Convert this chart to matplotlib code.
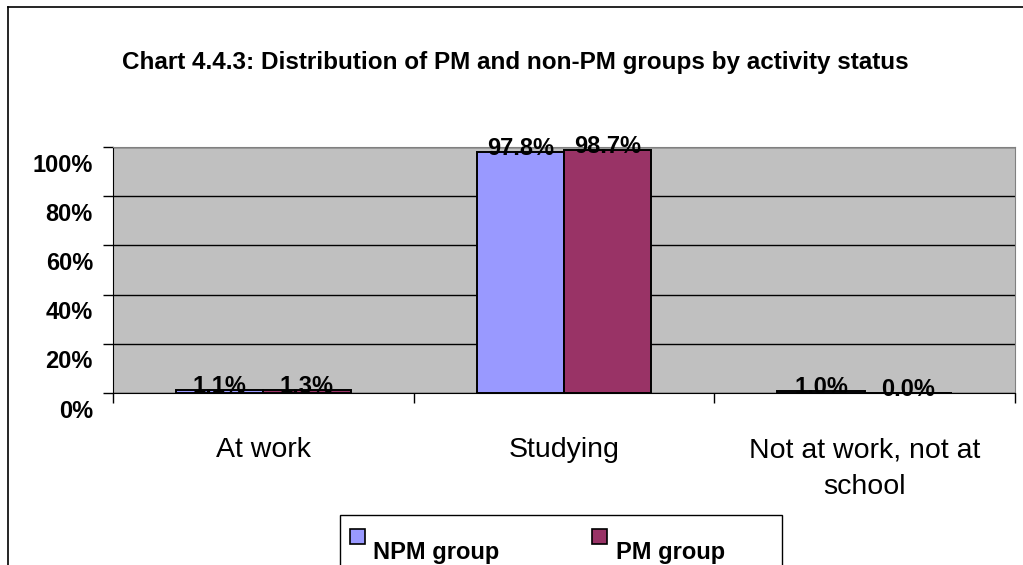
import numpy as np
import matplotlib
matplotlib.use('Agg')
import matplotlib.pyplot as plt
from matplotlib.lines import Line2D
from matplotlib.patches import Rectangle

plt.rcParams['font.family'] = ['Liberation Sans', 'DejaVu Sans']

title = "Chart 4.4.3: Distribution of PM and non-PM groups by activity status"
categories = ["At work", "Studying", "Not at work, not at\nschool"]
series_names = ["NPM group", "PM group"]
npm_vals = [1.1, 97.8, 1.0]
pm_vals = [1.3, 98.7, 0.0]
colors = ["#9999FF", "#993366"]
yticks = [0, 20, 40, 60, 80, 100]
ytick_labels = ["0%", "20%", "40%", "60%", "80%", "100%"]

W, H = 1023, 565
fig = plt.figure(figsize=(W / 100, H / 100), dpi=100)

def fx(px):
    return px / W

def fy(py):
    return 1 - py / H

# outer frame (only top and left visible)
fig.add_artist(Line2D([fx(8), 1.0], [fy(7), fy(7)], color="black", lw=1.2))
fig.add_artist(Line2D([fx(8), fx(8)], [fy(7), 0.0], color="black", lw=1.2))

ax = fig.add_axes([fx(113), fy(393), fx(1015) - fx(113), fy(147) - fy(393)])
ax.set_facecolor("#C0C0C0")

x = np.arange(len(categories))
w = 0.29
series = [npm_vals, pm_vals]
for i, vals in enumerate(series):
    xs = x + (i - 0.5) * w
    ax.bar(xs, vals, width=w, color=colors[i], edgecolor="black", linewidth=1.4, zorder=3)
    for xx, v in zip(xs, vals):
        ax.annotate("%.1f%%" % v, xy=(xx, v), xytext=(0, -3), textcoords="offset pixels",
                    ha="center", va="baseline", fontsize=17, fontweight="bold", zorder=4)

ax.set_xlim(-0.5, 2.5)
ax.set_ylim(0, 100)
ax.set_yticks(yticks)
ax.set_yticklabels([])
for v, lab in zip(yticks, ytick_labels):
    ax.annotate(lab, xy=(0, v), xycoords=("axes fraction", "data"), xytext=(-20, -18),
                textcoords="offset pixels", ha="right", va="center",
                fontsize=17, fontweight="bold")
ax.yaxis.grid(True, color="black", lw=1, zorder=1)
ax.tick_params(axis="y", length=7, width=1, direction="out")

ax.set_xticks([-0.5, 0.5, 1.5, 2.5])
ax.set_xticklabels([])
ax.tick_params(axis="x", which="major", length=7, width=1, direction="out")
ax.set_xticks(x, minor=True)
ax.set_xticklabels(categories, minor=True, fontsize=20.5, linespacing=1.55)
ax.tick_params(axis="x", which="minor", length=0, pad=32)

for s in ["top", "right"]:
    ax.spines[s].set_color("#808080")
for s in ["left", "bottom"]:
    ax.spines[s].set_color("black")

fig.text(fx(515), fy(62), title, ha="center", va="center", fontsize=17.5, fontweight="bold")

# legend box
fig.add_artist(Rectangle((fx(340), fy(575)), fx(782) - fx(340), fy(515) - fy(575),
                         transform=fig.transFigure, facecolor="white", edgecolor="black", lw=1))
mark_x = [350, 592]
text_x = [373, 616]
for i in range(2):
    fig.add_artist(Rectangle((fx(mark_x[i]), fy(544)), fx(15), fy(529) - fy(544),
                             transform=fig.transFigure, facecolor=colors[i],
                             edgecolor="black", lw=1.2))
    fig.text(fx(text_x[i]), fy(559), series_names[i], ha="left", va="baseline",
             fontsize=17, fontweight="bold")

fig.savefig("out.png", dpi=100)
